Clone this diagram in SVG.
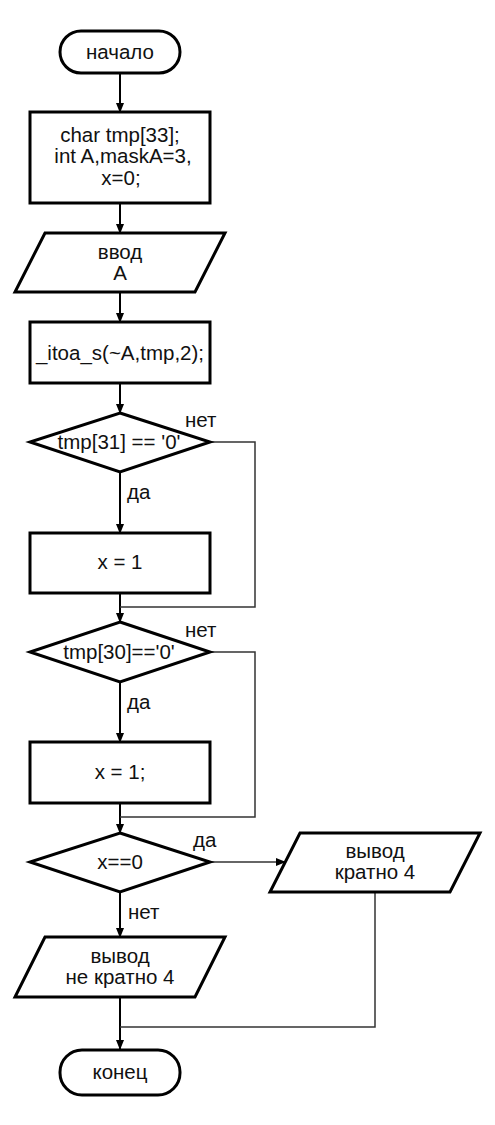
<svg xmlns="http://www.w3.org/2000/svg" width="495" height="1125" viewBox="0 0 495 1125">
<defs>
<marker id="arr" markerWidth="10" markerHeight="10" refX="9" refY="5" orient="auto" markerUnits="userSpaceOnUse">
<path d="M0,1 L10,5 L0,9 Z" fill="#000"/>
</marker>
<style>
.s{fill:#fff;stroke:#000;stroke-width:3}
.t{font-family:"Liberation Sans",Arial,sans-serif;font-size:20.5px;fill:#111;text-anchor:middle}
.l{font-family:"Liberation Sans",Arial,sans-serif;font-size:20.5px;fill:#111}
.c{fill:none;stroke:#000;stroke-width:2}
.b{fill:none;stroke:#333;stroke-width:1.5}
</style>
</defs>
<rect width="495" height="1125" fill="#fff"/>
<g id="connectors">
<line class="c" x1="120" y1="73" x2="120" y2="112" marker-end="url(#arr)"/>
<line class="c" x1="120" y1="203" x2="120" y2="233" marker-end="url(#arr)"/>
<line class="c" x1="120" y1="292" x2="120" y2="322" marker-end="url(#arr)"/>
<line class="c" x1="120" y1="383" x2="120" y2="413" marker-end="url(#arr)"/>
<line class="c" x1="120" y1="472" x2="120" y2="533" marker-end="url(#arr)"/>
<line class="c" x1="120" y1="593" x2="120" y2="622" marker-end="url(#arr)"/>
<polyline class="b" points="210,442 255,442 255,607 120,607"/>
<line class="c" x1="120" y1="682" x2="120" y2="742" marker-end="url(#arr)"/>
<line class="c" x1="120" y1="803" x2="120" y2="833" marker-end="url(#arr)"/>
<polyline class="b" points="210,652 255,652 255,817 120,817"/>
<line class="c" x1="120" y1="892" x2="120" y2="937" marker-end="url(#arr)"/>
<line class="b" x1="210" y1="862" x2="285" y2="862" marker-end="url(#arr)"/>
<line class="c" x1="120" y1="997" x2="120" y2="1049" marker-end="url(#arr)"/>
<polyline class="b" points="375,892 375,1027 120,1027"/>
<text class="l" x="185" y="427">нет</text>
<text class="l" x="127" y="499">да</text>
<text class="l" x="185" y="637">нет</text>
<text class="l" x="127" y="709">да</text>
<text class="l" x="193" y="847">да</text>
<text class="l" x="128" y="919">нет</text>
</g>
<g id="start">
<rect class="s" x="60" y="31" width="120" height="42" rx="21"/>
<text class="t" x="120" y="59">начало</text>
</g>
<g id="decl">
<rect class="s" x="30" y="112" width="180" height="91"/>
<text class="t" x="120" y="142">char tmp[33];</text>
<text class="t" x="123" y="163">int A,maskA=3,</text>
<text class="t" x="121" y="185">x=0;</text>
</g>
<g id="input">
<polygon class="s" points="45,233 225,233 195,292 15,292"/>
<text class="t" x="120" y="259">ввод</text>
<text class="t" x="120" y="280">A</text>
</g>
<g id="itoa">
<rect class="s" x="30" y="322" width="180" height="61"/>
<text class="t" x="120" y="360">_itoa_s(~A,tmp,2);</text>
</g>
<g id="cond1">
<polygon class="s" points="120,413 210,442 120,472 30,442"/>
<text class="t" x="119" y="449">tmp[31] == '0'</text>
</g>
<g id="set1">
<rect class="s" x="30" y="533" width="180" height="60"/>
<text class="t" x="120" y="569">x = 1</text>
</g>
<g id="cond2">
<polygon class="s" points="120,622 210,652 120,682 30,652"/>
<text class="t" x="119" y="659">tmp[30]=='0'</text>
</g>
<g id="set2">
<rect class="s" x="30" y="742" width="180" height="61"/>
<text class="t" x="120" y="779">x = 1;</text>
</g>
<g id="cond3">
<polygon class="s" points="120,833 210,862 120,892 30,862"/>
<text class="t" x="120" y="869">x==0</text>
</g>
<g id="out_yes">
<polygon class="s" points="300,833 480,833 450,892 270,892"/>
<text class="t" x="375" y="858">вывод</text>
<text class="t" x="375" y="879">кратно 4</text>
</g>
<g id="out_no">
<polygon class="s" points="45,937 225,937 195,997 15,997"/>
<text class="t" x="120" y="963">вывод</text>
<text class="t" x="120" y="984">не кратно 4</text>
</g>
<g id="end">
<rect class="s" x="60" y="1050" width="120" height="45" rx="22"/>
<text class="t" x="120" y="1079">конец</text>
</g>
</svg>
